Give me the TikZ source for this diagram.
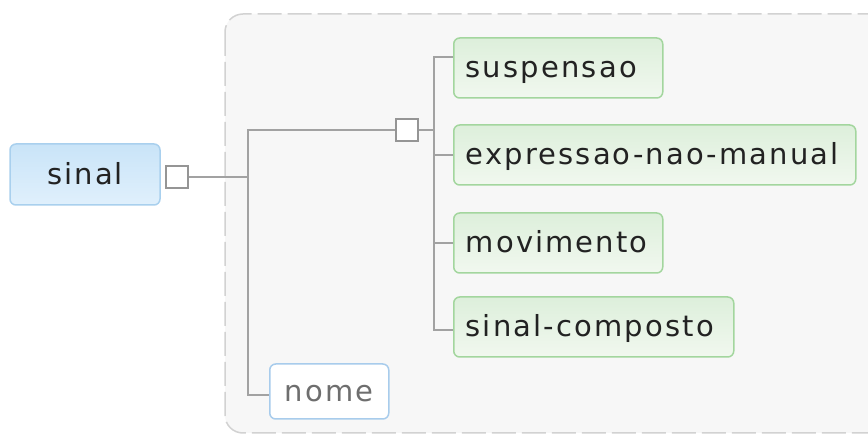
\documentclass[tikz,border=0pt]{standalone}
\usepackage{fontspec}
\setmainfont{DejaVu Sans}[LetterSpace=7.4]
\usetikzlibrary{calc}
\definecolor{groupfill}{HTML}{F7F7F7}
\definecolor{groupline}{HTML}{D2D2D2}
\definecolor{connline}{HTML}{A2A2A2}
\definecolor{rootline}{HTML}{A9D0EE}
\definecolor{roottop}{HTML}{C9E4F8}
\definecolor{rootbot}{HTML}{E0F0FC}
\definecolor{leafline}{HTML}{A3D69E}
\definecolor{leaftop}{HTML}{DDEFDB}
\definecolor{leafbot}{HTML}{F1F8EF}
\definecolor{attrline}{HTML}{A8CCEC}
\definecolor{attrtext}{HTML}{6E6E6E}
\definecolor{boxline}{HTML}{959595}
\definecolor{labeltext}{HTML}{222222}
\tikzset{
  x=1pt, y=-1pt,
  basefont/.style={font=\fontsize{29}{34}\selectfont, text height=20pt, text depth=0pt},
  rootnode/.style={basefont, draw=rootline, line width=1.5pt, rounded corners=6pt,
    top color=roottop, bottom color=rootbot, minimum width=150pt, minimum height=61pt,
    inner sep=0pt, text=labeltext},
  leafnode/.style={basefont, draw=leafline, line width=1.5pt, rounded corners=6pt,
    top color=leaftop, bottom color=leafbot, minimum height=60pt, anchor=west,
    inner sep=0pt, inner xsep=12pt, align=left, text=labeltext},
  attrnode/.style={basefont, draw=attrline, line width=1.5pt, rounded corners=6pt,
    fill=white, minimum width=119pt, minimum height=55pt, inner sep=0pt,
    anchor=west, text=attrtext},
  togglebox/.style={draw=boxline, line width=1.5pt, fill=white, minimum size=22pt,
    inner sep=0pt},
  conn/.style={draw=connline, line width=2pt},
  grouprect/.style={draw=groupline, fill=groupfill, line width=1.5pt,
    dash pattern=on 24pt off 6pt, rounded corners=18pt},
}
\begin{document}
\begin{tikzpicture}
  \useasboundingbox[fill=white] (0,0) rectangle (868,435);
  \clip (0,0) rectangle (868,435);

  % group frame around the children of "sinal"
  \draw[grouprect] (225,14) rectangle (920,433);

  % nodes
  \node[rootnode] (sinal) at (85,174.5) {sinal};
  \node[togglebox] (sq1) at (177,177) {};
  \node[togglebox] (sq2) at (407,130) {};

  \node[leafnode, text width=185pt] (susp) at (453,68) {suspensao};
  \node[leafnode, text width=378pt] (expr) at (453,155) {expressao-nao-manual};
  \node[leafnode, text width=185pt] (mov)  at (453,243) {movimento};
  \node[leafnode, text width=256pt] (comp) at (453,327) {sinal-composto};
  \node[attrnode] (nome) at (269,391.5) {nome};

  % bus lines
  \coordinate (b1top) at (248,130);
  \coordinate (b1bot) at (248,395);
  \coordinate (b2top) at (434,57);
  \coordinate (b2bot) at (434,330);

  \draw[conn] (sq1.east) -- (sq1.east -| b1top);
  \draw[conn] (sq2.west) -- (b1top) -- (b1bot) -- (nome.west |- b1bot);
  \draw[conn] (sq2.east) -- (sq2.east -| b2top);
  \draw[conn] (susp.west |- b2top) -- (b2top) -- (b2bot) -- (comp.west |- b2bot);
  \draw[conn] (expr.west) -- (expr.west -| b2top);
  \draw[conn] (mov.west) -- (mov.west -| b2top);
\end{tikzpicture}
\end{document}
